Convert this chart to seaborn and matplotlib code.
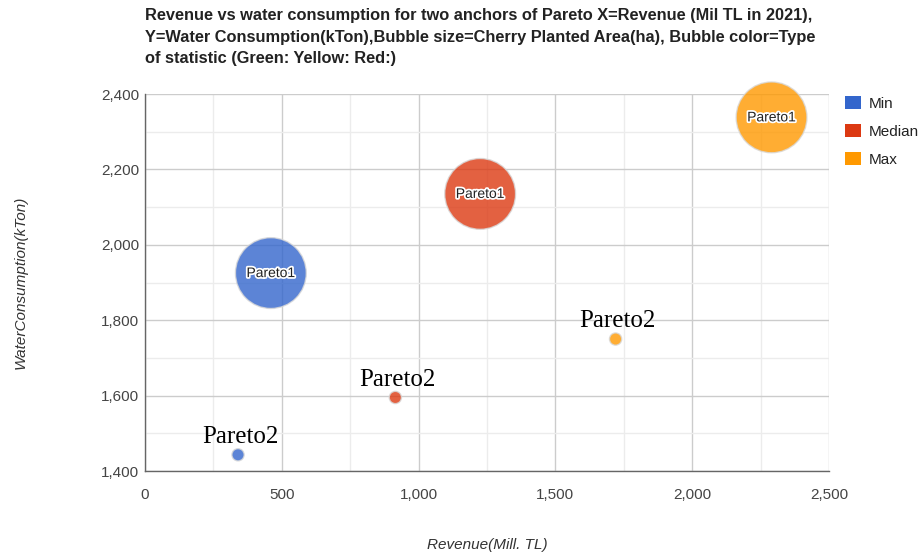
import matplotlib
matplotlib.use("Agg")
import matplotlib.pyplot as plt
import matplotlib.patheffects as pe
from matplotlib.patches import Patch
from matplotlib.ticker import MultipleLocator, FuncFormatter
import seaborn as sns
import pandas as pd

# Pareto anchor points
labels = ["Pareto1", "Pareto1", "Pareto1", "Pareto2", "Pareto2", "Pareto2"]
revenue = [460, 1225, 2290, 340, 915, 1720]          # Mill. TL (2021)
water = [1925, 2135, 2338, 1443, 1595, 1750]         # kTon
planted_area = [11000, 11000, 11000, 1500, 1500, 1500]  # ha
statistic = ["Min", "Median", "Max", "Min", "Median", "Max"]

stat_order = ["Min", "Median", "Max"]
stat_colors = {"Min": "#3366CC", "Median": "#DC3912", "Max": "#FF9900"}

df = pd.DataFrame({
    "label": labels,
    "revenue": revenue,
    "water": water,
    "area": planted_area,
    "stat": statistic,
})

sns.set_theme(style="white")
plt.rcParams["font.family"] = ["Liberation Sans", "DejaVu Sans"]

fig = plt.figure(figsize=(9.23, 5.6), dpi=100)
ax = fig.add_axes([145 / 923, 1 - 471 / 560, (829 - 145) / 923, (471 - 94) / 560])

sns.scatterplot(
    data=df, x="revenue", y="water", hue="stat", hue_order=stat_order,
    palette=stat_colors, size="area", sizes=(78, 2600),
    alpha=0.8, edgecolor="#d8d8d8", linewidth=1.0,
    legend=False, ax=ax, clip_on=False, zorder=3,
)

ax.set_xlim(0, 2500)
ax.set_ylim(1400, 2400)
ax.xaxis.set_major_locator(MultipleLocator(500))
ax.xaxis.set_minor_locator(MultipleLocator(250))
ax.yaxis.set_major_locator(MultipleLocator(200))
ax.yaxis.set_minor_locator(MultipleLocator(100))
fmt = FuncFormatter(lambda v, _: f"{int(v):,}")
ax.xaxis.set_major_formatter(fmt)
ax.yaxis.set_major_formatter(fmt)

ax.grid(True, which="major", color="#cccccc", linewidth=1.0, zorder=0)
ax.grid(True, which="minor", color="#ececec", linewidth=1.0, zorder=0)
ax.set_axisbelow(True)
for side in ["top", "right"]:
    ax.spines[side].set_visible(False)
for side in ["left", "bottom"]:
    ax.spines[side].set_color("#666666")
    ax.spines[side].set_linewidth(1.0)
    ax.spines[side].set_zorder(2)

ax.tick_params(axis="both", which="both", length=0, labelsize=11, labelcolor="#444444")
ax.tick_params(axis="x", pad=12)
ax.tick_params(axis="y", pad=4)

ax.set_xlabel("Revenue(Mill. TL)", fontsize=11, fontstyle="italic", color="#333333", labelpad=26)
ax.set_ylabel("WaterConsumption(kTon)", fontsize=11, fontstyle="italic", color="#333333", labelpad=53)

# Bubble labels
for _, row in df.iterrows():
    if row["label"] == "Pareto1":
        ax.text(row["revenue"], row["water"], row["label"], ha="center", va="center",
                fontsize=10, color="#222222", zorder=5,
                path_effects=[pe.withStroke(linewidth=2.5, foreground="white")])
    else:
        ax.annotate(row["label"], (row["revenue"], row["water"]),
                    xytext=(1.5, 8.5), textcoords="offset points",
                    ha="center", va="baseline", fontsize=18,
                    family="Liberation Serif", color="black", zorder=5)

handles = [Patch(facecolor=stat_colors[s], edgecolor="none", label=s) for s in stat_order]
leg = ax.legend(handles=handles, loc="upper left", bbox_to_anchor=(1.015, 1.012),
                frameon=False, fontsize=11, handlelength=1.0, handleheight=1.0,
                handletextpad=0.5, labelspacing=0.85, borderaxespad=0)
for t in leg.get_texts():
    t.set_color("#222222")

fig.text(145 / 923, 1 - 8 / 560,
         "Revenue vs water consumption for two anchors of Pareto X=Revenue (Mil TL in 2021),\n"
         "Y=Water Consumption(kTon),Bubble size=Cherry Planted Area(ha), Bubble color=Type\n"
         "of statistic (Green: Yellow: Red:)",
         ha="left", va="top", fontsize=11.8, fontweight="bold", color="#222222",
         linespacing=1.55)

fig.savefig("out.png", dpi=100)
